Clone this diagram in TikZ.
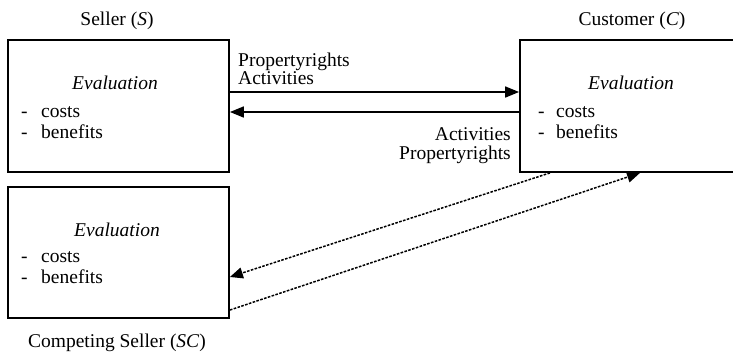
\documentclass[tikz,border=0pt]{standalone}
\usepackage{fontspec}
\setmainfont{Liberation Serif}
\usetikzlibrary{arrows.meta}
\begin{document}
\begin{tikzpicture}[x=1pt,y=-1pt,
  party/.style={draw, line width=1.8pt, rectangle, inner sep=0pt},
  lbl/.style={inner sep=0pt, font=\fontsize{19.5}{18.5}\selectfont},
  item/.style={lbl, anchor=base west},
  flow/.style={line width=1.7pt, -{Triangle[length=14pt,width=11pt]}},
  offer/.style={line width=1.5pt, dash pattern=on 2.6pt off 1.4pt, -{Triangle[length=13pt,width=11pt]}}]
\useasboundingbox (0,0) rectangle (733,357);

% parties
\node[party, minimum width=221pt, minimum height=132pt] (S)  at (118.5,106) {};
\node[party, minimum width=222pt, minimum height=132pt] (C)  at (631,106) {};
\node[party, minimum width=221pt, minimum height=131pt] (SC) at (118.5,252.5) {};

% titles
\node[lbl] (tS)  at (117,21)  {Seller (\textit{S})};
\node[lbl] (tC)  at (632,21)  {Customer (\textit{C})};
\node[lbl] (tSC) at (117,343) {Competing Seller (\textit{SC})};

% evaluation contents of the seller
\node[lbl] (eS)  at (115,83) {\textit{Evaluation}};
\node[item] (dS1) at (21,117) {-};
\node[item] (cS1) at (41,117) {costs};
\node[item] (dS2) at (21,138) {-};
\node[item] (cS2) at (41,138) {benefits};

% evaluation contents of the customer
\node[lbl] (eC)  at (631,83) {\textit{Evaluation}};
\node[item] (dC1) at (538,117) {-};
\node[item] (cC1) at (556,117) {costs};
\node[item] (dC2) at (538,138) {-};
\node[item] (cC2) at (556,138) {benefits};

% evaluation contents of the competing seller
\node[lbl] (eSC) at (117,230) {\textit{Evaluation}};
\node[item] (dSC1) at (21,262) {-};
\node[item] (cSC1) at (41,262) {costs};
\node[item] (dSC2) at (21,283) {-};
\node[item] (cSC2) at (41,283) {benefits};

% exchange between seller and customer
\draw[flow] (S.east |- 0,92) -- (C.west |- 0,92);
\draw[flow] (C.west |- 0,112) -- (S.east |- 0,112);
\node[lbl, anchor=west, align=left] (give) at (238,69) {Propertyrights\\Activities};
\node[lbl, anchor=east, align=right] (take) at (511,145.5) {Activities\\Propertyrights};

% exchange with the competing seller
\draw[offer] (C.south -| 550,0) -- (SC.east |- 0,277);
\draw[offer] (SC.east |- 0,310) -- (C.south -| 640,0);
\end{tikzpicture}
\end{document}
